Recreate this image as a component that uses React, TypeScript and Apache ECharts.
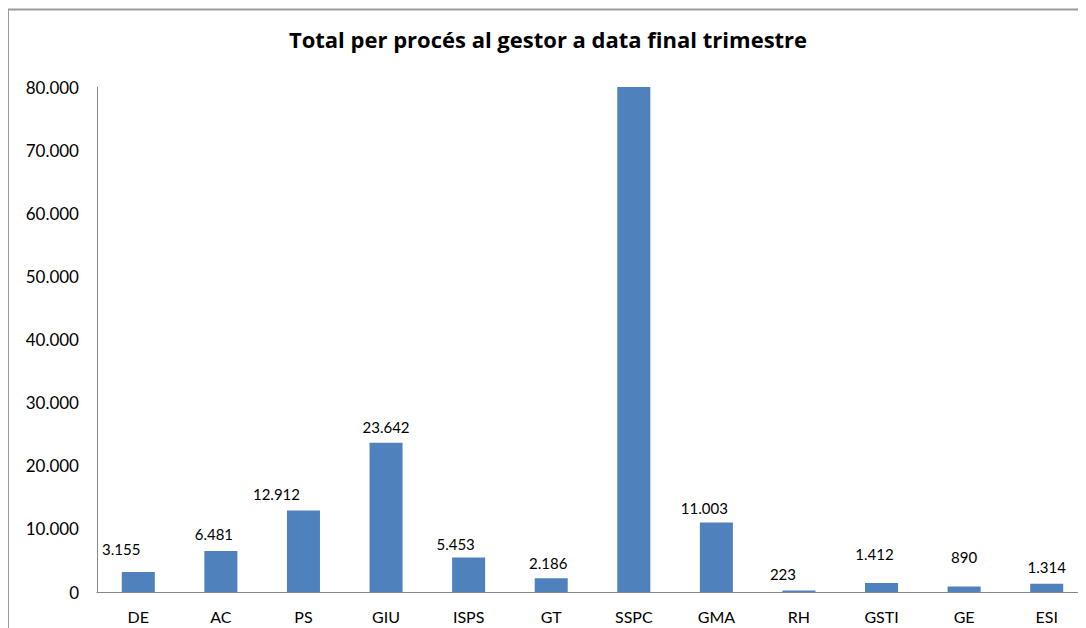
import React, { useEffect, useRef } from "react";
import * as echarts from "echarts";

const titleText = "Total per procés al gestor a data final trimestre";
const categories = ["DE", "AC", "PS", "GIU", "ISPS", "GT", "SSPC", "GMA", "RH", "GSTI", "GE", "ESI"];
const values = [3155, 6481, 12912, 23642, 5453, 2186, 80000, 11003, 223, 1412, 890, 1314];
const showLabel = [true, true, true, true, true, true, false, true, true, true, true, true];
// label nudges (style only), [dx, dy] in px
const labelNudges: number[][] = [
  [-17, -8], [-7, -2], [-27, -1], [0, 0], [-13, 2], [-3, 0],
  [0, 0], [-12, 1], [-16, -1], [-7, -14], [0, -14], [0, -1],
];
const yMin = 0;
const yMax = 80000;
const yInterval = 10000;

const fmt = (v: number) => String(v).replace(/\B(?=(\d{3})+(?!\d))/g, ".");

export default function App() {
  const ref = useRef<HTMLDivElement>(null);
  useEffect(() => {
    document.documentElement.style.overflow = "hidden";
    document.body.style.overflow = "hidden";
    const chart = echarts.init(ref.current!, null, { renderer: "svg" });
    const font = "Lato, 'Open Sans', sans-serif";
    chart.setOption({
      animation: false,
      title: {
        text: titleText,
        left: "center",
        top: 15,
        textStyle: { fontFamily: "'Open Sans', sans-serif", fontSize: 22, fontWeight: "bold", color: "#000" },
      },
      graphic: [
        {
          type: "rect",
          shape: { x: 0, y: 1.5, width: 3000, height: 3000 },
          style: { fill: "none", stroke: "#9a9a9a", lineWidth: 2 },
          silent: true,
        },
      ],
      grid: { left: 89, right: 0, top: 79, bottom: 56, containLabel: false },
      xAxis: {
        type: "category",
        data: categories,
        axisLine: { show: true, lineStyle: { color: "#868686", width: 1 } },
        axisTick: { show: false },
        axisLabel: { color: "#000", fontFamily: font, fontSize: 16, margin: 16 },
      },
      yAxis: {
        type: "value",
        min: yMin,
        max: yMax,
        interval: yInterval,
        axisLine: { show: true, lineStyle: { color: "#868686", width: 1 } },
        axisTick: { show: false },
        splitLine: { show: false },
        axisLabel: {
          color: "#000",
          fontFamily: font,
          fontSize: 17,
          margin: 18,
          formatter: (v: number) => fmt(v),
        },
      },
      series: [
        {
          type: "bar",
          barWidth: "40%",
          itemStyle: { color: "#4F81BD" },
          label: {
            show: true,
            position: "top",
            distance: 8,
            color: "#000",
            fontFamily: font,
            fontSize: 15,
            formatter: (p: any) => fmt(p.value),
          },
          data: values.map((v, i) => ({
            value: v,
            label: { show: showLabel[i], offset: labelNudges[i] },
          })),
        },
      ],
    });
    return () => chart.dispose();
  }, []);
  return <div ref={ref} style={{ width: 1080, height: 640 }} />;
}
